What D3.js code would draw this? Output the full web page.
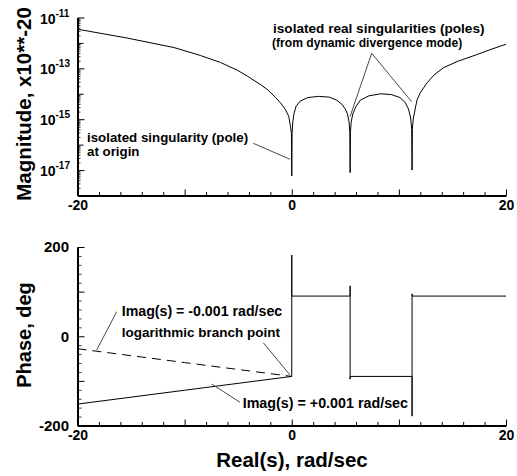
<!DOCTYPE html>
<html>
<head>
<meta charset="utf-8">
<script src="https://cdn.jsdelivr.net/npm/d3@7"></script>
<style>
  html, body { margin: 0; padding: 0; background: #fff; }
  svg text { font-family: "Liberation Sans", Arial, Helvetica, sans-serif; font-weight: bold; fill: #000; }
</style>
</head>
<body>
<svg id="chart" width="517" height="476"></svg>
<script>
// ---------------- data ----------------
const magX = [-20, -15.35, -11, -8.52, -6.65, -5.09, -4.16, -2.92, -2.3, -1.52, -1.05, -0.59, -0.28, -0.12, -0.03, 0,
  0.03, 0.1, 0.2, 0.4, 0.8, 1.5, 2.5, 3.5, 4.2, 4.7, 5.0, 5.2, 5.35, 5.42, 5.45,
  5.48, 5.55, 5.7, 6.0, 6.4, 7.2, 8.3, 9.3, 10.1, 10.6, 10.9, 11.1, 11.2, 11.23,
  11.26, 11.35, 11.7, 12.0, 12.63, 13.3, 14.18, 15.5, 17.3, 18.5, 20];
const magY = [3.47e-12, 1.55e-12, 6.6e-13, 3.2e-13, 1.7e-13, 8.5e-14, 5.0e-14, 2.3e-14, 1.5e-14, 7.2e-15, 4.4e-15, 2.4e-15, 1.3e-15, 5.2e-16, 2.8e-16, 5.9e-18,
  2.8e-16, 7.9e-16, 1.6e-15, 3.2e-15, 5.2e-15, 7.1e-15, 7.9e-15, 7.4e-15, 5.6e-15, 3.8e-15, 2.5e-15, 1.6e-15, 7.9e-16, 3.2e-16, 7.9e-18,
  3.2e-16, 7.9e-16, 1.6e-15, 3.2e-15, 5.6e-15, 8.3e-15, 1.0e-14, 9.3e-15, 7.1e-15, 4.5e-15, 2.5e-15, 1.1e-15, 4.0e-16, 1.0e-17,
  4.0e-16, 1.1e-15, 5.9e-15, 1.1e-14, 2.7e-14, 5.6e-14, 1.07e-13, 1.9e-13, 3.5e-13, 5.4e-13, 8.9e-13];

// Imag(s) = +0.001 rad/sec (solid)
const phasePlusX = [-20, -10, 0, 0, 0, 5.45, 5.45, 5.45, 5.45, 11.23, 11.23, 11.23, 11.23, 20];
const phasePlusY = [-152, -121, -90, 182, 90, 90, 113, -96, -90, -90, -179, 95, 90, 90];
// Imag(s) = -0.001 rad/sec (dashed)
const phaseMinusX = [-20, -10, 0];
const phaseMinusY = [-28, -59, -90];

const xTickValues = [-20, -10, 0, 10, 20];
const xTickLabels = ["-20", "", "0", "", "20"];
const xMinorTicks = [-18, -16, -14, -12, -8, -6, -4, -2, 2, 4, 6, 8, 12, 14, 16, 18];
const magLabelExps = [-11, -13, -15, -17];
const magDecadeExps = [-12, -14, -16];
const phaseTickValues = [-200, -100, 0, 100, 200];
const phaseTickLabels = ["-200", "", "0", "", "200"];

// ---------------- layout ----------------
const svg = d3.select("#chart");
const x = d3.scaleLinear().domain([-20, 20]).range([77.5, 506]);
const yMag = d3.scaleLog().domain([1e-18, 1e-11]).range([195.5, 17.5]);
const yPh = d3.scaleLinear().domain([-200, 200]).range([425.5, 247]);

function styleAxis(g, w) {
  g.select(".domain").attr("stroke", "#000").attr("stroke-width", w);
  g.selectAll(".tick line").attr("stroke", "#000").attr("stroke-width", 1);
}

// ---- top plot x axis ----
const gxTop = svg.append("g").attr("transform", `translate(0,${yMag.range()[0]})`)
  .call(d3.axisBottom(x).tickValues(xTickValues).tickSizeInner(-6).tickSizeOuter(0).tickPadding(5)
    .tickFormat((d, i) => xTickLabels[i]));
styleAxis(gxTop, 2);
gxTop.selectAll(".tick text").attr("font-size", 14);
svg.append("g").attr("transform", `translate(0,${yMag.range()[0]})`)
  .call(d3.axisBottom(x).tickValues(xMinorTicks).tickSize(-3.5).tickFormat(""))
  .call(g => { g.select(".domain").remove(); g.selectAll(".tick line").attr("stroke", "#000"); });

// ---- top plot y axis (log) ----
const gyTop = svg.append("g").attr("transform", `translate(${x.range()[0]},0)`)
  .call(d3.axisLeft(yMag).tickValues(magLabelExps.map(e => Math.pow(10, e))).tickSizeInner(-7).tickSizeOuter(0).tickFormat(""));
styleAxis(gyTop, 2);
svg.append("g").attr("transform", `translate(${x.range()[0]},0)`)
  .call(d3.axisLeft(yMag).tickValues(magDecadeExps.map(e => Math.pow(10, e))).tickSize(-6).tickFormat(""))
  .call(g => { g.select(".domain").remove(); g.selectAll(".tick line").attr("stroke", "#000"); });
const minorLog = [];
for (let e = -18; e < -11; e++) for (let m = 2; m <= 9; m++) minorLog.push(m * Math.pow(10, e));
svg.append("g").attr("transform", `translate(${x.range()[0]},0)`)
  .call(d3.axisLeft(yMag).tickValues(minorLog).tickSize(-3).tickFormat(""))
  .call(g => { g.select(".domain").remove(); g.selectAll(".tick line").attr("stroke", "#000").attr("stroke-width", 0.8); });
// labels 10^e
magLabelExps.forEach(e => {
  const yy = yMag(Math.pow(10, e));
  svg.append("text").attr("x", 55.5).attr("y", yy + 6).attr("text-anchor", "end")
    .attr("font-size", 14).text("10");
  svg.append("text").attr("x", 55.5).attr("y", yy - 1).attr("text-anchor", "start")
    .attr("font-size", 10).text(String(e));
});

// ---- magnitude curve ----
const magPts = magX.map((v, i) => [v, magY[i]]);
svg.append("path").datum(magPts)
  .attr("fill", "none").attr("stroke", "#000").attr("stroke-width", 1)
  .attr("d", d3.line().x(d => x(d[0])).y(d => yMag(d[1])));

// ---- bottom plot x axis ----
const gxBot = svg.append("g").attr("transform", `translate(0,${yPh.range()[0]})`)
  .call(d3.axisBottom(x).tickValues(xTickValues).tickSizeInner(-6).tickSizeOuter(0).tickPadding(5)
    .tickFormat((d, i) => xTickLabels[i]));
styleAxis(gxBot, 2);
gxBot.selectAll(".tick text").attr("font-size", 14);
svg.append("g").attr("transform", `translate(0,${yPh.range()[0]})`)
  .call(d3.axisBottom(x).tickValues(xMinorTicks).tickSize(-3.5).tickFormat(""))
  .call(g => { g.select(".domain").remove(); g.selectAll(".tick line").attr("stroke", "#000"); });

// ---- bottom plot y axis ----
const gyBot = svg.append("g").attr("transform", `translate(${x.range()[0]},0)`)
  .call(d3.axisLeft(yPh).tickValues(phaseTickValues).tickSizeInner(-7).tickSizeOuter(0).tickPadding(8.5)
    .tickFormat((d, i) => phaseTickLabels[i]));
styleAxis(gyBot, 2);
gyBot.selectAll(".tick text").attr("font-size", 15).attr("x", -8.5);
const phMinor = d3.range(-180, 200, 20).filter(v => v % 100 !== 0);
svg.append("g").attr("transform", `translate(${x.range()[0]},0)`)
  .call(d3.axisLeft(yPh).tickValues(phMinor).tickSize(-4).tickFormat(""))
  .call(g => { g.select(".domain").remove(); g.selectAll(".tick line").attr("stroke", "#000").attr("stroke-width", 0.8); });

// ---- phase curves ----
const phLine = d3.line().x(d => x(d[0])).y(d => yPh(d[1]));
svg.append("path").datum(phasePlusX.map((v, i) => [v, phasePlusY[i]]))
  .attr("fill", "none").attr("stroke", "#000").attr("stroke-width", 1).attr("d", phLine);
svg.append("path").datum(phaseMinusX.map((v, i) => [v, phaseMinusY[i]]))
  .attr("fill", "none").attr("stroke", "#000").attr("stroke-width", 1)
  .attr("stroke-dasharray", "9,6").attr("d", phLine);

// ---- axis titles ----
svg.append("text").attr("transform", "translate(31,104) rotate(-90)").attr("text-anchor", "middle")
  .attr("font-size", 20.5).text("Magnitude, x10**-20");
svg.append("text").attr("transform", "translate(31,335) rotate(-90)").attr("text-anchor", "middle")
  .attr("font-size", 20).text("Phase, deg");
svg.append("text").attr("x", 292).attr("y", 467).attr("text-anchor", "middle")
  .attr("font-size", 20.5).text("Real(s), rad/sec");

// ---- annotations ----
function leader(x1, y1, x2, y2) {
  svg.append("line").attr("x1", x1).attr("y1", y1).attr("x2", x2).attr("y2", y2)
    .attr("stroke", "#333").attr("stroke-width", 0.9);
}
function note(tx, ty, size, str) {
  svg.append("text").attr("x", tx).attr("y", ty).attr("font-size", size).text(str);
}
note(273, 33, 13.6, "isolated real singularities (poles)");
note(272, 46.5, 12.1, "(from dynamic divergence mode)");
leader(371.7, 53.3, 350, 116.7);
leader(371.7, 53.3, 411.7, 101.7);

note(87, 141.5, 13.3, "isolated singularity (pole)");
note(87, 155.5, 13.3, "at origin");
leader(253.3, 143.3, 290, 159.3);

note(121.7, 316, 14.2, "Imag(s) = -0.001 rad/sec");
note(121.7, 336.5, 13.5, "logarithmic branch point");
note(242.7, 407.5, 14.3, "Imag(s) = +0.001 rad/sec");
leader(116.7, 311.7, 96.7, 350);
leader(263.3, 342.7, 290, 375);
leader(211.7, 384, 240, 402.3);
</script>
</body>
</html>
